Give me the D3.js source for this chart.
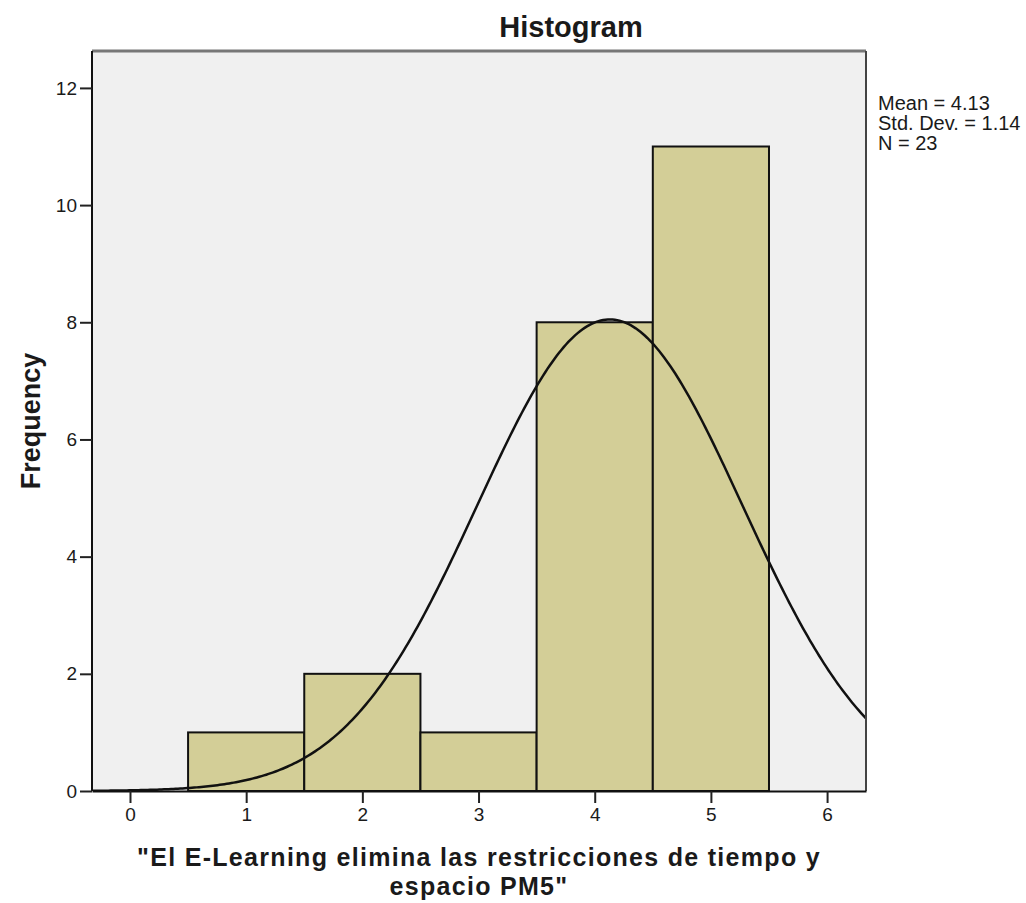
<!DOCTYPE html>
<html>
<head>
<meta charset="utf-8">
<script src="https://cdn.jsdelivr.net/npm/d3@7"></script>
<style>
    body { margin: 0; background: #fff; }
    svg text { font-family: "Liberation Sans", Arial, sans-serif; fill: #1a1a1a; }
</style>
</head>
<body>
<div id="chart"></div>
<script>
// histogram data
const binCenters = [1, 2, 3, 4, 5];
const binCounts = [1, 2, 1, 8, 11];
const binWidth = 1;
const xTicks = [0, 1, 2, 3, 4, 5, 6];
const yTicks = [0, 2, 4, 6, 8, 10, 12];
// summary shown at right (also defines the fitted normal curve)
const statMean = 4.13;
const statSd = 1.14;
const statN = 23;
const statLines = ["Mean = 4.13", "Std. Dev. = 1.14", "N = 23"];

const width = 1026, height = 903;
const margin = { top: 51, right: 160, bottom: 112, left: 92 };
const innerW = width - margin.left - margin.right;
const innerH = height - margin.top - margin.bottom;

const svg = d3.select("#chart").append("svg")
    .attr("width", width)
    .attr("height", height);

const chart = svg.append("g")
    .attr("transform", `translate(${margin.left},${margin.top})`);

const x = d3.scaleLinear().domain([-0.327, 6.335]).range([0, innerW]);
const y = d3.scaleLinear().domain([0, 12.63]).range([innerH, 0]);

// plot background
chart.append("rect")
    .attr("width", innerW)
    .attr("height", innerH)
    .attr("fill", "#f0f0f0");

chart.append("defs").append("clipPath").attr("id", "plot-clip")
    .append("rect").attr("width", innerW).attr("height", innerH);

// bars
chart.selectAll(".bar")
    .data(binCenters.map((c, i) => ({ c, n: binCounts[i] })))
    .join("rect")
    .attr("class", "bar")
    .attr("x", d => x(d.c - binWidth / 2))
    .attr("width", d => x(d.c + binWidth / 2) - x(d.c - binWidth / 2))
    .attr("y", d => y(d.n))
    .attr("height", d => y(0) - y(d.n))
    .attr("fill", "#d3ce97")
    .attr("stroke", "#111")
    .attr("stroke-width", 2);

// normal curve from mean / sd / N
const normal = v => statN * binWidth / (statSd * Math.sqrt(2 * Math.PI)) *
    Math.exp(-0.5 * Math.pow((v - statMean) / statSd, 2));
const curvePts = d3.range(x.domain()[0], x.domain()[1] + 0.01, 0.02).map(v => [v, normal(v)]);

chart.append("path")
    .datum(curvePts)
    .attr("clip-path", "url(#plot-clip)")
    .attr("fill", "none")
    .attr("stroke", "#111")
    .attr("stroke-width", 2.5)
    .attr("d", d3.line().x(d => x(d[0])).y(d => y(d[1])));

// frame
chart.append("line").attr("x1", 0).attr("x2", innerW).attr("y1", 0).attr("y2", 0)
    .attr("stroke", "#777").attr("stroke-width", 3);
chart.append("line").attr("x1", innerW).attr("x2", innerW).attr("y1", 0).attr("y2", innerH)
    .attr("stroke", "#444").attr("stroke-width", 2);

// axes
const yAxis = chart.append("g")
    .call(d3.axisLeft(y).tickValues(yTicks).tickFormat(d3.format("d"))
        .tickSize(12).tickPadding(3).tickSizeOuter(0));
const xAxis = chart.append("g")
    .attr("transform", `translate(0,${innerH})`)
    .call(d3.axisBottom(x).tickValues(xTicks).tickFormat(d3.format("d"))
        .tickSize(12).tickPadding(5).tickSizeOuter(0));

[xAxis, yAxis].forEach(g => {
    g.select(".domain").attr("stroke", "#111").attr("stroke-width", 2);
    g.selectAll(".tick line").attr("stroke", "#222").attr("stroke-width", 2);
    g.selectAll(".tick text")
        .attr("font-family", "Liberation Sans, Arial, sans-serif")
        .attr("font-size", 19)
        .attr("fill", "#222");
});
yAxis.select(".domain").attr("d", `M0,${innerH}V0`);

// title
svg.append("text")
    .attr("x", 571)
    .attr("y", 37)
    .attr("text-anchor", "middle")
    .attr("font-size", 29)
    .attr("font-weight", "bold")
    .text("Histogram");

// axis titles
svg.append("text")
    .attr("transform", `translate(40,${margin.top + innerH / 2}) rotate(-90)`)
    .attr("text-anchor", "middle")
    .attr("font-size", 27)
    .attr("font-weight", "bold")
    .text("Frequency");

const xTitleLines = ["\"El E-Learning elimina las restricciones de tiempo y", "espacio PM5\""];
svg.append("g").selectAll("text")
    .data(xTitleLines)
    .join("text")
    .attr("x", margin.left + innerW / 2)
    .attr("y", (d, i) => 866 + i * 29)
    .attr("text-anchor", "middle")
    .attr("font-size", 25)
    .attr("font-weight", "bold")
    .attr("letter-spacing", 1.3)
    .text(d => d);

// stats box
svg.append("g").selectAll("text")
    .data(statLines)
    .join("text")
    .attr("x", 878)
    .attr("y", (d, i) => 110 + i * 20)
    .attr("font-size", 20)
    .text(d => d);
</script>
</body>
</html>
